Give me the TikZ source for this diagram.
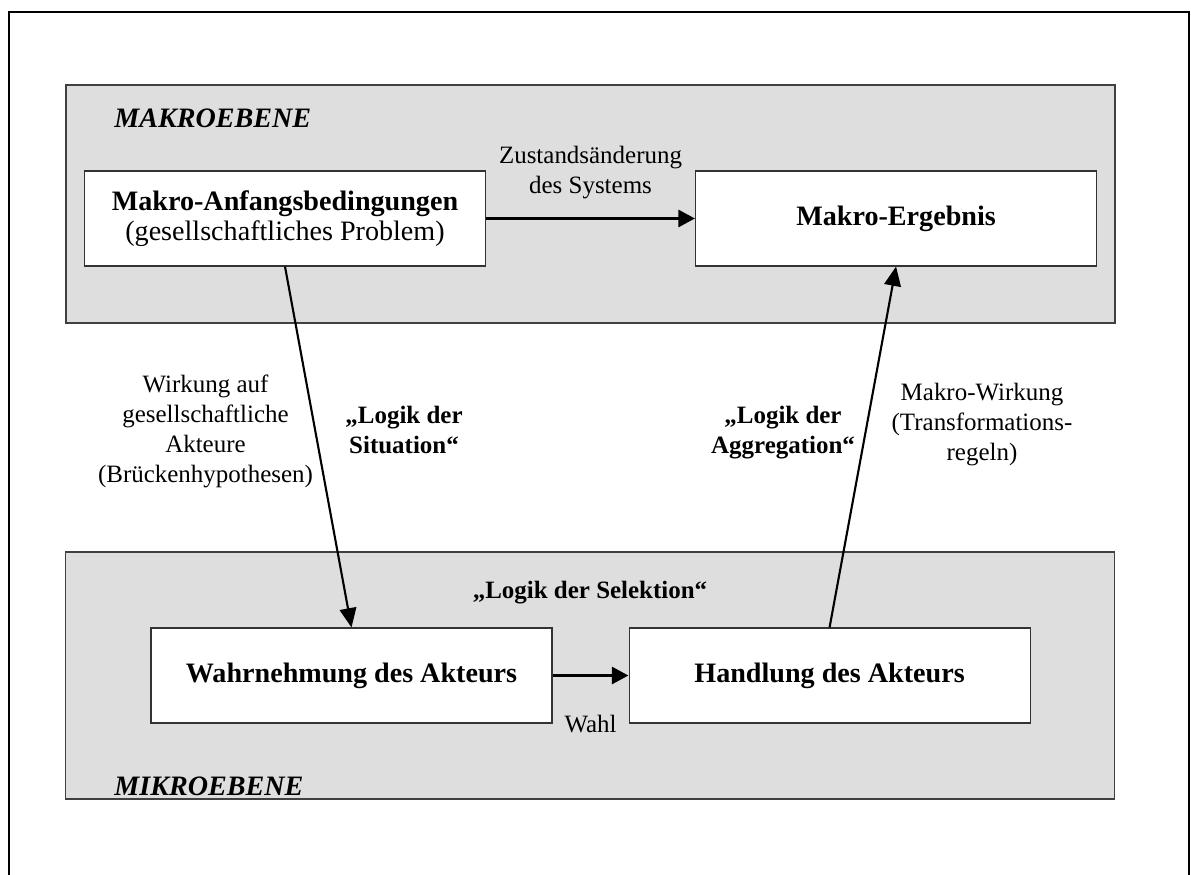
\documentclass[tikz,border=0pt]{standalone}
\usepackage{fontspec}
\setmainfont{Liberation Serif}
\usetikzlibrary{arrows.meta,positioning}

\begin{document}
\begin{tikzpicture}[
  panel/.style={draw=black!75, fill=black!13, line width=0.6pt, minimum width=20.98cm, inner sep=0},
  box/.style={draw=black!80, fill=white, line width=0.6pt, align=center, minimum width=8.02cm, minimum height=1.9cm, inner sep=0, font=\fontsize{16}{17}\selectfont},
  level/.style={anchor=base west, inner sep=0, font=\fontsize{16}{18}\selectfont\bfseries\itshape},
  note/.style={align=center, inner sep=0, font=\fontsize{14.2}{17}\selectfont},
  logic/.style={note, font=\fontsize{14.2}{17}\selectfont\bfseries},
  arrow/.style={-{Triangle[length=9.5pt, width=9.5pt]}, line width=2.2pt},
  slant/.style={-{Triangle[length=11pt, width=9.5pt]}, line width=1.2pt}
]
\useasboundingbox (0,0) rectangle (23.82,-17.5);
\draw[line width=1.1pt] (0.18,-17.5) |- (23.78,-0.24) -- (23.78,-17.5);
\node[panel, minimum height=4.76cm] (makro) at (11.81,-4.08) {};
\node[panel, minimum height=4.94cm] (mikro) at (11.80,-13.51) {};
\node[level] (makrotitle) at (2.28,-2.56) {MAKROEBENE};
\node[level] (mikrotitle) at (2.28,-15.9) {MIKROEBENE};
\node[box] (mab) at (5.70,-4.37) {\textbf{Makro-Anfangsbedingungen}\\(gesellschaftliches Problem)};
\node[box, right=4.18cm of mab] (erg) {\textbf{Makro-Ergebnis}};
\node[box] (wahr) at (7.03,-13.51) {\textbf{Wahrnehmung des Akteurs}};
\node[box, right=1.52cm of wahr] (hand) {\textbf{Handlung des Akteurs}};
\draw[arrow] (mab) -- node[note, above=0.36cm] (zust) {Zustandsänderung\\des Systems} (erg);
\draw[arrow] (wahr) -- node[note, below=0.756cm] (wahl) {Wahl} (hand);
\draw[slant] (mab.south) -- (wahr.north);
\draw[slant] (hand.north) -- (erg.south);
\node[note, anchor=base] (wirkung) at (4.11,-9.64) {Wirkung auf\\gesellschaftliche\\Akteure\\(Brückenhypothesen)};
\node[logic, anchor=base] (situation) at (8.08,-9.06) {„Logik der\\Situation“};
\node[logic, anchor=base] (aggregation) at (15.66,-9.06) {„Logik der\\Aggregation“};
\node[note, anchor=base] (mwirkung) at (19.64,-9.2) {Makro-Wirkung\\(Transformations-\\regeln)};
\node[logic, anchor=base] (selektion) at (11.8,-11.96) {„Logik der Selektion“};
\end{tikzpicture}
\end{document}
